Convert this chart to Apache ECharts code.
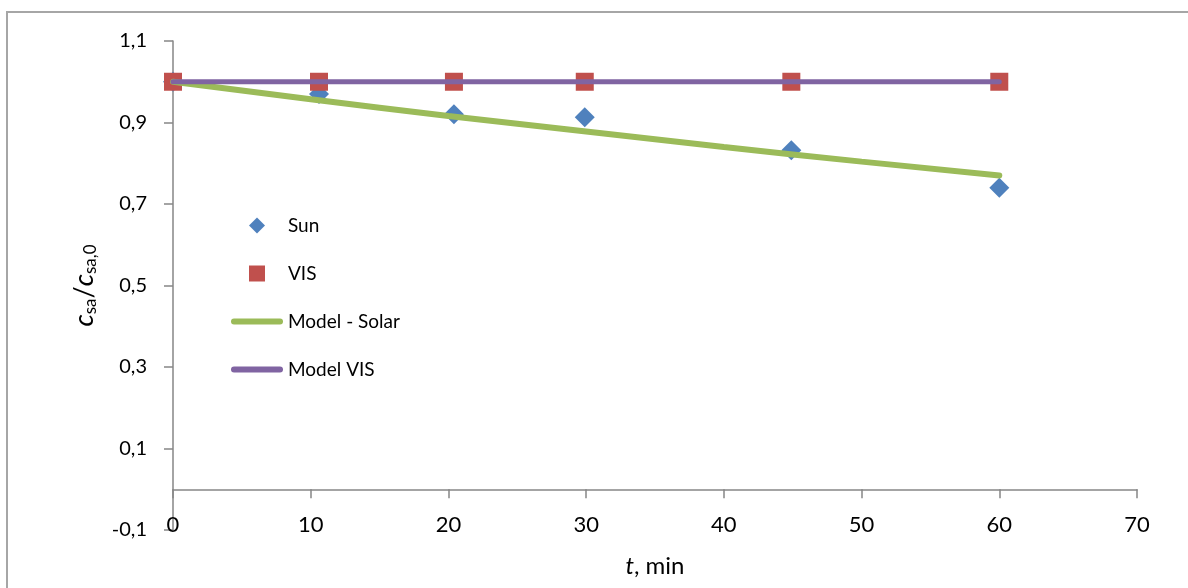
<!DOCTYPE html>
<html>
<head>
<meta charset="utf-8">
<script src="https://cdn.jsdelivr.net/npm/echarts@6/dist/echarts.min.js"></script>
<style>
html,body{margin:0;padding:0;background:#fff;}
#c{width:1188px;height:588px;}
</style>
</head>
<body>
<div id="c"></div>
<script>
// ---- data ----
const sunT = [0, 10.6, 20.4, 29.9, 44.9, 60];
const sunVal = [1.0, 0.970, 0.920, 0.913, 0.832, 0.740];
const visT = [0, 10.6, 20.4, 29.9, 44.9, 60];
const visVal = [1.0, 1.0, 1.0, 1.0, 1.0, 1.0];
const modelSolarT = [0, 10, 20, 30, 40, 50, 60];
const modelSolarVal = [1.0, 0.957, 0.916, 0.878, 0.840, 0.804, 0.770];
const modelVisT = [0, 60];
const modelVisVal = [1.0, 1.0];
const seriesNames = ['Sun', 'VIS', 'Model - Solar', 'Model VIS'];

const zip = (a, b) => a.map((v, i) => [v, b[i]]);
const FONT = 'Lato';
const ICON_DIAMOND = 'path://M0,-1L1,0L0,1L-1,0Z';
const ICON_SQUARE = 'path://M0,0L1,0L1,1L0,1Z';
const ICON_LINE = 'path://M3,0L49,0A3,3,0,0,1,49,6L3,6A3,3,0,0,1,3,0Z';
const legendIcons = [ICON_DIAMOND, ICON_SQUARE, ICON_LINE, ICON_LINE];

const chart = echarts.init(document.getElementById('c'));
chart.setOption({
  animation: false,
  textStyle: {fontFamily: FONT, color: '#000'},
  graphic: [{
    type: 'rect', z: -10, silent: true,
    shape: {x: 7, y: 12, width: 1400, height: 800},
    style: {fill: 'none', stroke: '#a6a6a6', lineWidth: 2}
  }],
  grid: {left: 173, right: 51, top: 41, bottom: 58, containLabel: false, outerBoundsMode: 'none'},
  legend: {
    orient: 'vertical', left: 226, top: 211,
    itemWidth: 52, itemHeight: 16, itemGap: 29, symbolKeepAspect: true,
    textStyle: {fontFamily: FONT, fontSize: 19, color: '#000'},
    data: seriesNames.map((n, i) => ({name: n, icon: legendIcons[i]}))
  },
  xAxis: {
    type: 'value', min: 0, max: 70, interval: 10,
    axisLine: {onZero: true, lineStyle: {color: '#868686', width: 1.5}},
    axisTick: {show: true, inside: false, length: 9, lineStyle: {color: '#868686', width: 1.5}},
    axisLabel: {margin: -16, fontSize: 22, color: '#000', fontFamily: FONT},
    splitLine: {show: false},
    name: '{i|t}, min', nameLocation: 'middle', nameGap: 24, nameMoveOverlap: false,
    nameTextStyle: {fontSize: 24, fontFamily: FONT, color: '#000',
      rich: {i: {fontStyle: 'italic', fontSize: 24, fontFamily: FONT}}}
  },
  yAxis: {
    type: 'value', min: -0.1, max: 1.1, interval: 0.2,
    axisLine: {show: true, onZero: false, lineStyle: {color: '#868686', width: 1.5}},
    axisTick: {show: true, length: 9, lineStyle: {color: '#868686', width: 1.5}},
    axisLabel: {margin: 26, fontSize: 20, color: '#000', fontFamily: FONT,
      formatter: v => v.toFixed(1).replace('.', ',')},
    splitLine: {show: false},
    name: '{i|c}{s|sa}{n|/}{i|c}{s|sa,0}',
    nameLocation: 'middle', nameRotate: 90, nameGap: 74, nameMoveOverlap: false,
    nameTextStyle: {
      fontFamily: FONT, color: '#000',
      rich: {
        i: {fontStyle: 'italic', fontSize: 27, lineHeight: 30, fontFamily: FONT},
        n: {fontSize: 27, lineHeight: 30, fontFamily: FONT},
        s: {fontSize: 17, lineHeight: 14, verticalAlign: 'bottom', fontFamily: FONT}
      }
    }
  },
  series: [
    {name: 'Sun', type: 'scatter', data: zip(sunT, sunVal), symbol: 'diamond', symbolSize: 20,
      itemStyle: {color: '#4F81BD', opacity: 1}},
    {name: 'VIS', type: 'scatter', data: zip(visT, visVal), symbol: 'rect', symbolSize: 18,
      itemStyle: {color: '#C0504D', opacity: 1}},
    {name: 'Model - Solar', type: 'line', data: zip(modelSolarT, modelSolarVal), symbol: 'none',
      smooth: true, lineStyle: {color: '#9BBB59', width: 6, cap: 'round'}, itemStyle: {color: '#9BBB59'}},
    {name: 'Model VIS', type: 'line', data: zip(modelVisT, modelVisVal), symbol: 'none',
      lineStyle: {color: '#8064A2', width: 5, cap: 'round'}, itemStyle: {color: '#8064A2'}}
  ]
});
</script>
</body>
</html>
